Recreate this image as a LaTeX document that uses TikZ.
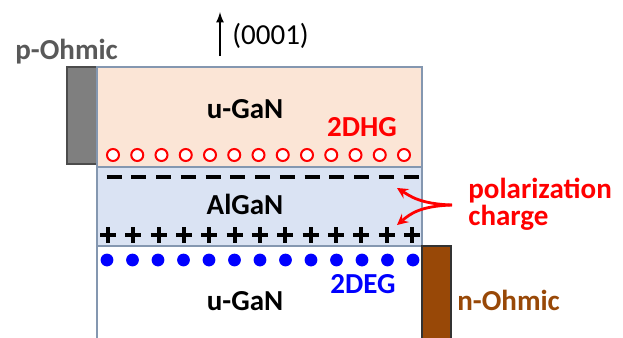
\documentclass[tikz,border=0pt]{standalone}
\usepackage{fontspec}
\setmainfont{Carlito}
\definecolor{gantop}{RGB}{251,229,214}
\definecolor{algan}{RGB}{218,227,243}
\definecolor{layeredge}{RGB}{132,151,176}
\definecolor{pohmic}{RGB}{127,127,127}
\definecolor{ptext}{RGB}{89,89,89}
\definecolor{nohmic}{RGB}{152,72,7}
\definecolor{holered}{RGB}{255,0,0}
\definecolor{elecblue}{RGB}{0,0,255}
\usetikzlibrary{positioning,shapes,arrows,calc}

\begin{document}
\begin{tikzpicture}[x=0.5pt,y=-0.5pt,
    layer/.style={draw=layeredge,line width=0.6pt},
    contact/.style={draw=black!70,line width=0.8pt},
    lbl/.style={font=\fontsize{14.5}{17}\selectfont\bfseries,anchor=base,inner sep=0pt},
    hole/.style={draw=holered,line width=1pt,fill=white},
    charge/.style={line width=2pt,black},
    polarrow/.style={holered,line width=1.4pt,-stealth}
]
    \useasboundingbox (0,0) rectangle (623,338);

    % contacts and layers
    \draw[contact,fill=pohmic] (67,67) rectangle (97,164);
    \draw[layer,fill=gantop] (97,67) rectangle (422,167);
    \draw[layer,fill=algan] (97,167) rectangle (422,246);
    \draw[layer] (97,246) -- (97,345);
    \draw[contact,draw=black!80,fill=nohmic] (422,246) rectangle (451,345);

    % growth direction
    \coordinate (ax0) at (220,56);
    \coordinate (ax1) at (220,12);
    \draw[line width=0.8pt,-latex] (ax0) -- (ax1);
    \node[lbl,font=\fontsize{14.5}{17}\selectfont,anchor=base west] (dir) at (232,44) {(0001)};

    % labels
    \node[lbl,anchor=base west,ptext] (pl) at (15,59) {p-Ohmic};
    \node[lbl] (top) at (245,118) {u-GaN};
    \node[lbl,holered] (dhg) at (362,136) {2DHG};
    \node[lbl] (bar) at (245,214) {AlGaN};
    \node[lbl,elecblue] (deg) at (363,293) {2DEG};
    \node[lbl] (bot) at (245,310) {u-GaN};
    \node[lbl,anchor=base west,nohmic] (nl) at (457,310) {n-Ohmic};
    \node[lbl,font=\fontsize{14.5}{11.5}\selectfont\bfseries,anchor=base west,align=left,holered] (pol) at (468,225) {polarization\\charge};

    % carriers and fixed charges
    \foreach \i in {0,...,12} {
        \draw[hole] ({113+\i*24.25},155) circle (3pt);
        \draw[charge] ({106.5+\i*24.75},177) -- ({121.5+\i*24.75},177);
        \draw[charge] ({100+\i*25.33},235) -- ({116+\i*25.33},235);
        \draw[charge] ({108+\i*25.33},227) -- ({108+\i*25.33},243);
        \fill[elecblue] ({107+\i*25.5},260) circle (3.2pt);
    }

    % polarization arrows
    \coordinate (fork) at (452,205);
    \coordinate (negtip) at (397,188);
    \coordinate (postip) at (397,225);
    \draw[polarrow] (fork) .. controls (420,204) and (410,196) .. (negtip);
    \draw[polarrow] (fork) .. controls (420,206) and (410,214) .. (postip);
\end{tikzpicture}
\end{document}
